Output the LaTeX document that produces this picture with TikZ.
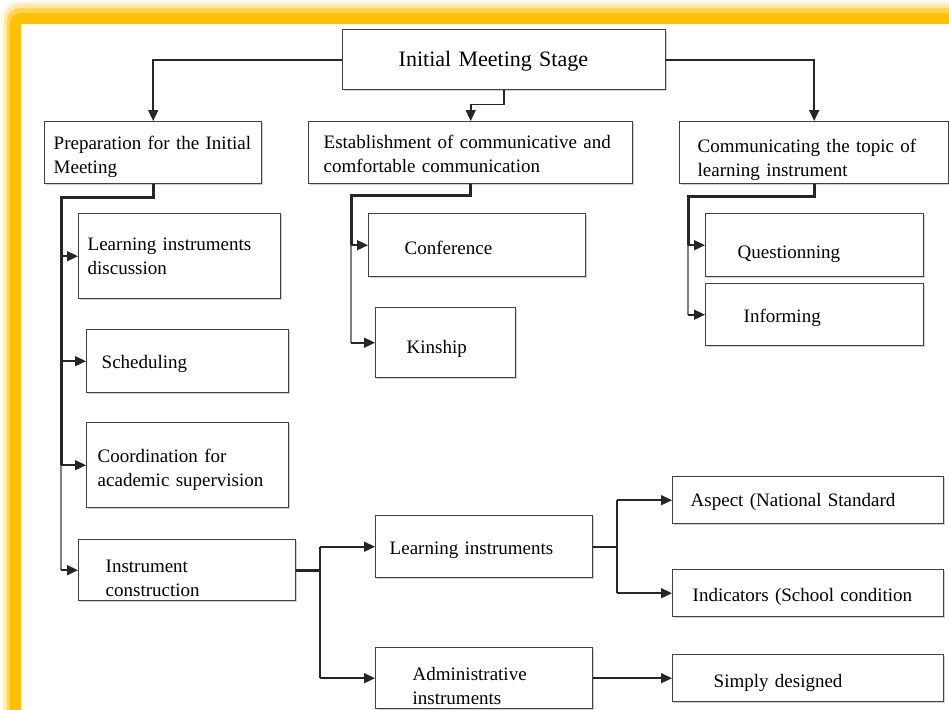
\documentclass[tikz,border=0pt]{standalone}
\usepackage{fontspec}
\setmainfont[WordSpace=0.85]{Liberation Serif}
\usetikzlibrary{arrows.meta,shadows}
\definecolor{gold}{HTML}{FFC000}
\newcommand\mydown[2]{\raisebox{-#1}[\height][\depth]{#2}}
\begin{document}
\begin{tikzpicture}[x=1pt,y=-1pt,
  box/.style={draw=black!75, line width=1.4pt, fill=white, rectangle, anchor=north west,
    inner ysep=0pt, align=left, font=\fontsize{19}{24}\selectfont, text=black,
    drop shadow={shadow xshift=1.2pt, shadow yshift=-1.2pt, opacity=0.18, fill=black}},
  conn/.style={draw=black!85, line width=1.6pt},
  bus/.style={draw=black!85, line width=3pt},
  busgray/.style={draw=black!50, line width=2pt},
  arr/.style={conn, -{Triangle[length=11pt,width=10pt]}},
]
\useasboundingbox (0,0) rectangle (949,709);
\clip (0,0) rectangle (949,709);
% frame
\fill[gold!12, rounded corners=18] (1,1) rectangle (1000,1000);
\fill[gold!35, rounded corners=15] (4,4) rectangle (1000,1000);
\fill[gold!70, rounded corners=13] (7,8) rectangle (1000,1000);
\fill[gold, rounded corners=11] (10,13) rectangle (1000,1000);
\fill[white] (21,24) rectangle (1000,1000);

% boxes
\node[box, minimum width=323pt, minimum height=60pt, inner xsep=56pt, text width=211pt, font=\fontsize{22}{26}\selectfont] (init) at (342,29) {\mydown{2pt}{Initial Meeting Stage}};
\node[box, minimum width=217pt, minimum height=62pt, inner xsep=9pt, text width=199pt] (prep) at (44,121) {\mydown{4pt}{Preparation for the Initial}\\\mydown{4pt}{Meeting}};
\node[box, minimum width=324pt, minimum height=62pt, inner xsep=15pt, text width=294pt] (est) at (308,121) {\mydown{1pt}{Establishment of communicative and}\\\mydown{1pt}{comfortable communication}};
\node[box, minimum width=269pt, minimum height=62pt, inner xsep=18pt, text width=233pt] (comm) at (679,121) {\mydown{7pt}{Communicating the topic of}\\\mydown{7pt}{learning instrument}};

\node[box, minimum width=202pt, minimum height=85pt, inner xsep=9pt, text width=184pt] (lid) at (78,213) {Learning instruments\\discussion};
\node[box, minimum width=202pt, minimum height=63pt, inner xsep=15pt, text width=172pt] (sched) at (86,329) {\mydown{3pt}{Scheduling}};
\node[box, minimum width=202pt, minimum height=85pt, inner xsep=11pt, text width=180pt] (coord) at (86,422) {\mydown{5pt}{Coordination for}\\\mydown{5pt}{academic supervision}};
\node[box, minimum width=217pt, minimum height=61pt, inner xsep=27pt, text width=163pt] (instr) at (78,539) {\mydown{8pt}{Instrument}\\\mydown{8pt}{construction}};

\node[box, minimum width=217pt, minimum height=63pt, inner xsep=36pt, text width=145pt] (conf) at (368,213) {\mydown{3pt}{Conference}};
\node[box, minimum width=140pt, minimum height=70pt, inner xsep=31pt, text width=78pt] (kin) at (375,307) {\mydown{6pt}{Kinship}};

\node[box, minimum width=218pt, minimum height=63pt, inner xsep=32pt, text width=154pt] (quest) at (705,213) {\mydown{9pt}{Questionning}};
\node[box, minimum width=218pt, minimum height=62pt, inner xsep=38pt, text width=142pt] (inf) at (705,283) {\mydown{3pt}{Informing}};

\node[box, minimum width=217pt, minimum height=62pt, inner xsep=14pt, text width=189pt] (li) at (375,515) {\mydown{4pt}{Learning instruments}};
\node[box, minimum width=217pt, minimum height=61pt, inner xsep=37pt, text width=143pt] (adm) at (375,647) {\mydown{8pt}{Administrative}\\\mydown{8pt}{instruments}};

\node[box, minimum width=271pt, minimum height=47pt, inner xsep=18pt, text width=235pt] (asp) at (672,476) {\mydown{2pt}{Aspect (National Standard}};
\node[box, minimum width=271pt, minimum height=47pt, inner xsep=20pt, text width=231pt] (ind) at (672,569) {\mydown{4pt}{Indicators (School condition}};
\node[box, minimum width=271pt, minimum height=47pt, inner xsep=41pt, text width=189pt] (simp) at (672,654) {\mydown{5pt}{Simply designed}};

% top level connectors
\draw[arr] (init.west) -| (prep.north);
\draw[arr] (init.east) -| (comm.north);
\draw[arr] (init.south) -- ++(0,14) -| (est.north);

% preparation branch
\coordinate (pb) at (61,197);
\draw[bus] (prep.south) |- (pb) -- (pb |- coord.west);
\draw[busgray] (pb |- coord.west) -- (pb |- instr.west);
\draw[arr] (pb |- lid.west) -- (lid.west);
\draw[arr] (pb |- sched.west) -- (sched.west);
\draw[arr] (pb |- coord.west) -- (coord.west);
\draw[arr] (pb |- instr.west) -- (instr.west);

% establishment branch
\coordinate (eb) at (351,195);
\draw[bus] (est.south) |- (eb) -- (eb |- conf.west);
\draw[busgray] (eb |- conf.west) -- (eb |- kin.west);
\draw[arr] (eb |- conf.west) -- (conf.west);
\draw[arr] (eb |- kin.west) -- (kin.west);

% communicating branch
\coordinate (cb) at (688,196);
\draw[bus] (comm.south) |- (cb) -- (cb |- quest.west);
\draw[busgray] (cb |- quest.west) -- (cb |- inf.west);
\draw[arr] (cb |- quest.west) -- (quest.west);
\draw[arr] (cb |- inf.west) -- (inf.west);

% instrument construction branch
\coordinate (ib) at (320,0);
\draw[bus] (instr.east) -- (instr.east -| ib);
\draw[conn] (ib |- li.west) -- (ib |- adm.west);
\draw[arr] (ib |- li.west) -- (li.west);
\draw[arr] (ib |- adm.west) -- (adm.west);

% learning instruments branch
\coordinate (lb) at (617,0);
\draw[conn] (li.east) -- (li.east -| lb);
\draw[conn] (lb |- asp.west) -- (lb |- ind.west);
\draw[arr] (lb |- asp.west) -- (asp.west);
\draw[arr] (lb |- ind.west) -- (ind.west);

\draw[arr] (adm.east) -- (simp.west);
\end{tikzpicture}
\end{document}
